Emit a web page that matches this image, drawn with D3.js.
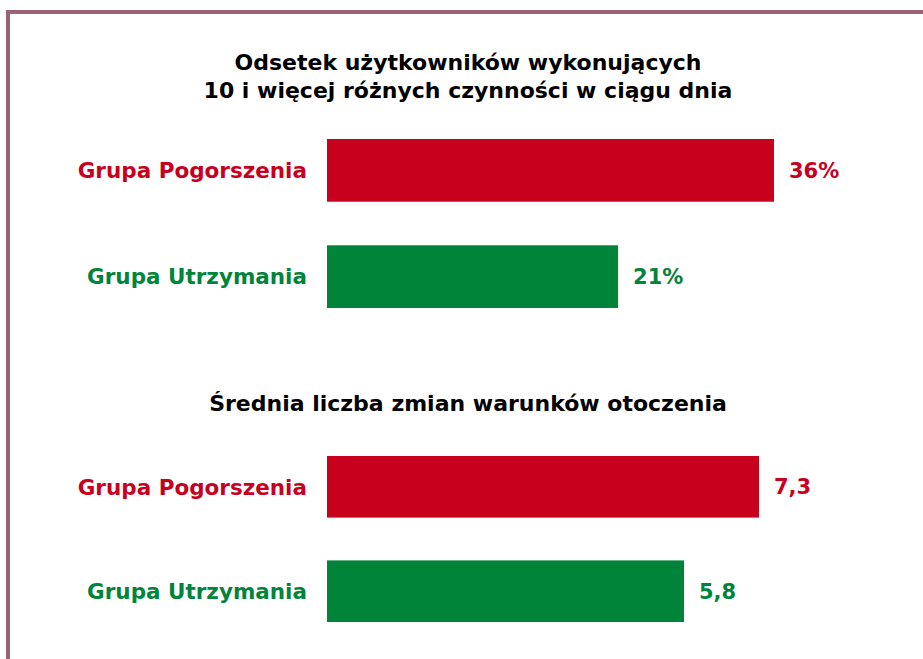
<!DOCTYPE html>
<html>
<head>
<meta charset="utf-8">
<script src="https://cdnjs.cloudflare.com/ajax/libs/d3/7.8.5/d3.min.js"></script>
<style>
  body { margin: 0; background: #fff; }
  svg { display: block; }
  text { font-family: "DejaVu Sans", sans-serif; font-weight: bold; }
</style>
</head>
<body>
<div id="chart"></div>
<script>
var w = 923;
var h = 659;

// data
var groups = ["Grupa Pogorszenia", "Grupa Utrzymania"];
var colors = ["#c8001e", "#00843a"];

var titles1 = ["Odsetek użytkowników wykonujących", "10 i więcej różnych czynności w ciągu dnia"];
var values1 = [36, 21];
var labels1 = ["36%", "21%"];

var titles2 = ["Średnia liczba zmian warunków otoczenia"];
var values2 = [7.3, 5.8];
var labels2 = ["7,3", "5,8"];

var svg = d3.select("#chart")
  .append("svg")
  .attr("width", w)
  .attr("height", h);

// frame (left + top)
svg.append("rect").attr("x", 6).attr("y", 10).attr("width", w).attr("height", 4).attr("fill", "#9a6374");
svg.append("rect").attr("x", 6).attr("y", 10).attr("width", 4).attr("height", h).attr("fill", "#9a6374");

function panel(titles, titleY, values, labels, x, y0, y1) {
  var g = svg.append("g");

  g.selectAll("text.title")
    .data(titles)
    .enter()
    .append("text")
    .attr("class", "title")
    .attr("x", 468)
    .attr("y", function(d, i) { return titleY + i * 28; })
    .attr("text-anchor", "middle")
    .attr("font-size", "22px")
    .attr("fill", "#000")
    .text(function(d) { return d; });

  var y = d3.scaleBand()
    .domain(groups)
    .range([y0, y1])
    .paddingInner(0.41)
    .paddingOuter(0);

  g.selectAll("rect.bar")
    .data(values)
    .enter()
    .append("rect")
    .attr("class", "bar")
    .attr("x", x(x.domain()[0]))
    .attr("y", function(d, i) { return y(groups[i]); })
    .attr("width", function(d) { return x(d) - x(x.domain()[0]); })
    .attr("height", y.bandwidth())
    .attr("fill", function(d, i) { return colors[i]; });

  g.selectAll("text.cat")
    .data(groups)
    .enter()
    .append("text")
    .attr("class", "cat")
    .attr("x", 307)
    .attr("y", function(d) { return y(d) + y.bandwidth() / 2; })
    .attr("dy", "0.36em")
    .attr("text-anchor", "end")
    .attr("font-size", "21.5px")
    .attr("fill", function(d, i) { return colors[i]; })
    .text(function(d) { return d; });

  g.selectAll("text.val")
    .data(values)
    .enter()
    .append("text")
    .attr("class", "val")
    .attr("x", function(d) { return x(d) + 15; })
    .attr("y", function(d, i) { return y(groups[i]) + y.bandwidth() / 2; })
    .attr("dy", "0.36em")
    .attr("font-size", "21px")
    .attr("fill", function(d, i) { return colors[i]; })
    .text(function(d, i) { return labels[i]; });
}

var x1 = d3.scaleLinear().domain([-7, 36]).range([327, 774]);
var x2 = d3.scaleLinear().domain([-1.34, 7.3]).range([327, 759]);

panel(titles1, 70, values1, labels1, x1, 139, 308);
panel(titles2, 411, values2, labels2, x2, 456, 622);
</script>
</body>
</html>
